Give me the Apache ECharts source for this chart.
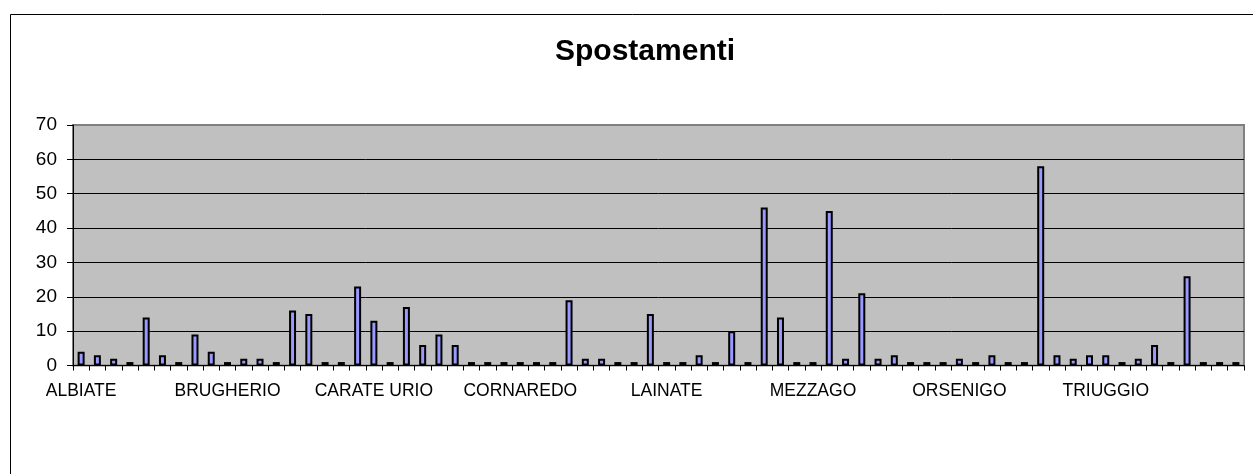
<!DOCTYPE html>
<html>
<head>
<meta charset="utf-8">
<script src="https://cdn.jsdelivr.net/npm/echarts@6/dist/echarts.min.js"></script>
<style>
html,body{margin:0;padding:0;background:#fff;}
#chart{width:1253px;height:474px;}
</style>
</head>
<body>
<div id="chart"></div>
<script>
// Category labels (only every 9th name is legible in the reference)
var shownNames = {0:'ALBIATE',9:'BRUGHERIO',18:'CARATE URIO',27:'CORNAREDO',36:'LAINATE',45:'MEZZAGO',54:'ORSENIGO',63:'TRIUGGIO'};
var values = [4,3,2,1,14,3,1,9,4,1,2,2,1,16,15,1,1,23,13,1,17,6,9,6,1,1,1,1,1,1,19,2,2,1,1,15,1,1,3,1,10,1,46,14,1,1,45,2,21,2,3,1,1,1,2,1,3,1,1,58,3,2,3,3,1,2,6,1,26,1,1,1];
var categories = values.map(function(v,i){ return shownNames[i] || ''; });
var yTicks = {min:0, max:70, interval:10};
var titleText = 'Spostamenti';

var chart = echarts.init(document.getElementById('chart'));
chart.setOption({
  animation:false,
  backgroundColor:'#ffffff',
  title:{text:titleText,left:550,top:32,textStyle:{fontFamily:'Liberation Sans',fontSize:30,fontWeight:'bold',color:'#000'}},
  graphic:[{type:'rect',shape:{x:10.5,y:14.5,width:1300,height:600},style:{fill:'none',stroke:'#000',lineWidth:1},silent:true,z:-10}],
  grid:{left:73,right:9,top:125,bottom:108.5,show:true,backgroundColor:'#c0c0c0',borderColor:'#808080',borderWidth:2},
  xAxis:{type:'category',data:categories,boundaryGap:true,
    axisLine:{show:true,lineStyle:{color:'#000',width:1}},
    axisTick:{show:true,interval:0,length:5,lineStyle:{color:'#000'}},
    axisLabel:{interval:0,fontFamily:'Liberation Sans',fontSize:17.5,color:'#000',margin:17},
    splitLine:{show:false}},
  yAxis:{type:'value',min:yTicks.min,max:yTicks.max,interval:yTicks.interval,
    axisLine:{show:true,lineStyle:{color:'#000',width:1}},
    axisTick:{show:true,length:6,lineStyle:{color:'#000'}},
    axisLabel:{fontFamily:'Liberation Sans',fontSize:19,color:'#000',margin:16},
    splitLine:{show:true,lineStyle:{color:['#000','#000','#000','#000','#000','#000','#000','#808080'],width:1}}},
  series:[{type:'bar',data:values,barWidth:7,itemStyle:{color:'#9999ff',borderColor:'#000',borderWidth:2}}]
});
</script>
</body>
</html>
